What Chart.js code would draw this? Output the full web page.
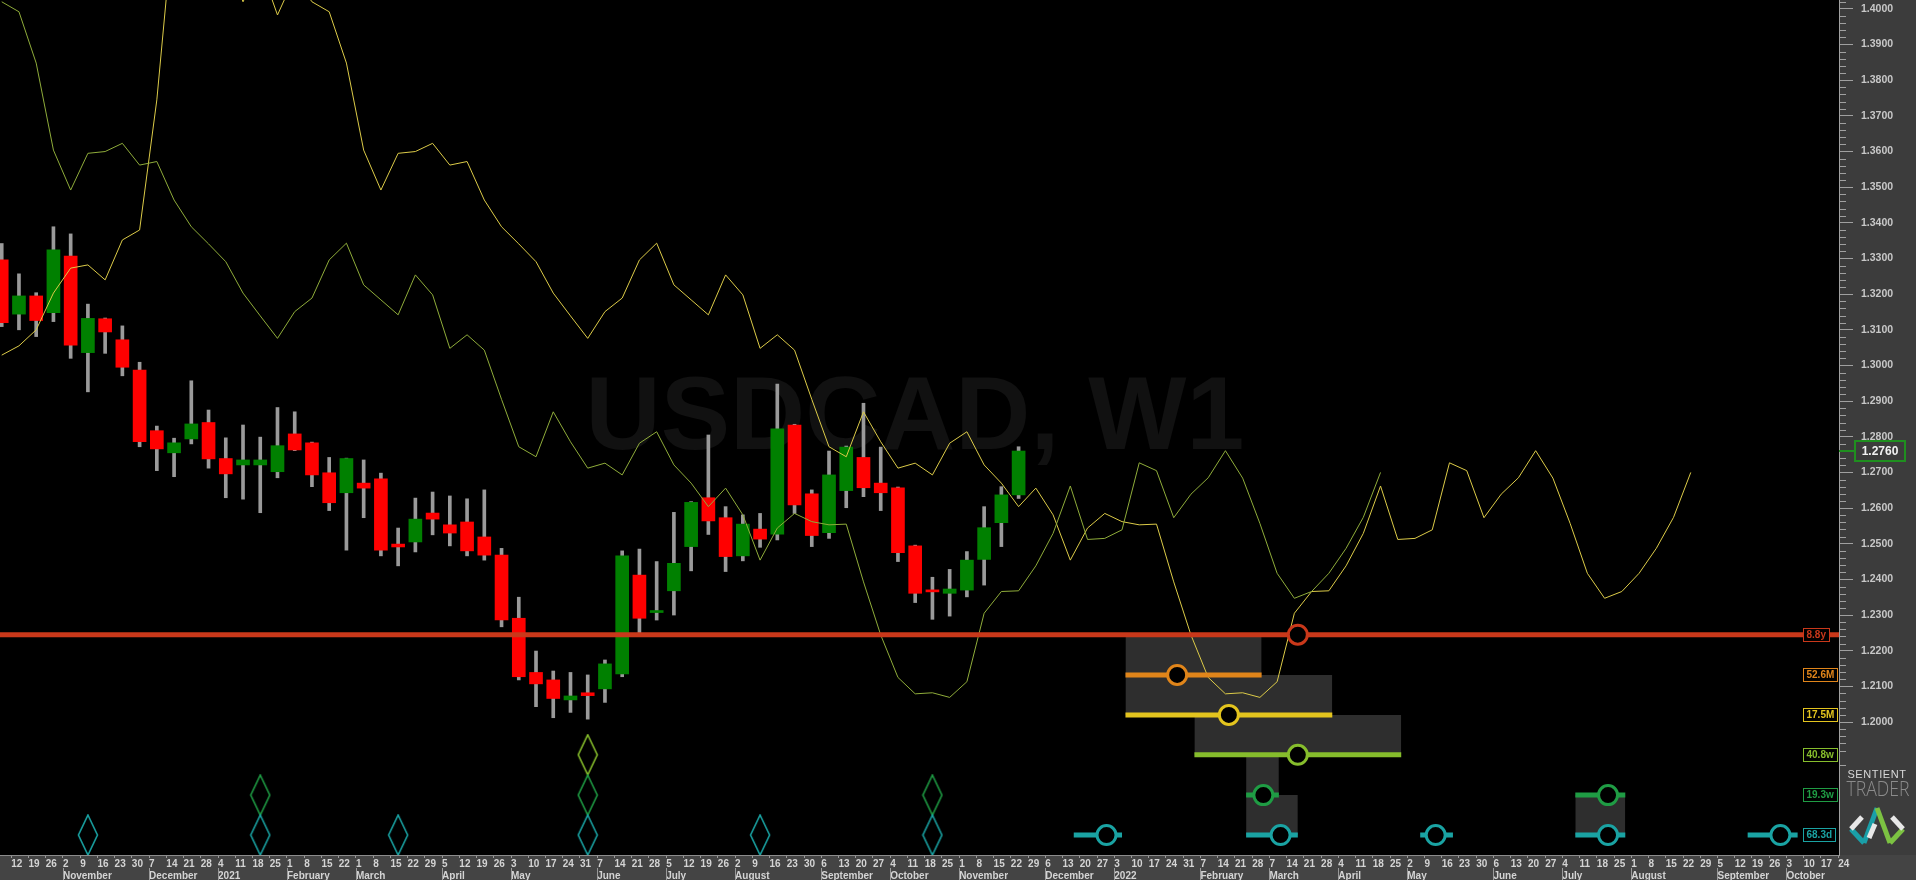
<!DOCTYPE html>
<html>
<head>
<meta charset="utf-8">
<title>USDCAD, W1</title>
<script src="https://cdn.jsdelivr.net/npm/chart.js@4.4.1/dist/chart.umd.min.js"></script>
<style>
  html, body { margin: 0; padding: 0; background: #3c3c3c; overflow: hidden; }
  #chart { display: block; }
</style>
</head>
<body>
<canvas id="chart" width="1916" height="880"></canvas>
<script>
// week index 0 = 5 Oct 2020, one step per week
var weekDays = [5,12,19,26, 2,9,16,23,30, 7,14,21,28, 4,11,18,25, 1,8,15,22, 1,8,15,22,29, 5,12,19,26,
  3,10,17,24,31, 7,14,21,28, 5,12,19,26, 2,9,16,23,30, 6,13,20,27, 4,11,18,25, 1,8,15,22,29,
  6,13,20,27, 3,10,17,24,31, 7,14,21,28, 7,14,21,28, 4,11,18,25, 2,9,16,23,30, 6,13,20,27,
  4,11,18,25, 1,8,15,22,29, 5,12,19,26, 3,10,17,24];
var monthStartWeeks = [4, 9, 13, 17, 21, 26, 30, 35, 39, 43, 48, 52, 56, 61, 65, 70, 74, 78, 82, 87, 91, 95, 100, 104];
var monthNames = ['November','December','2021','February','March','April','May','June','July','August','September','October',
  'November','December','2022','February','March','April','May','June','July','August','September','October'];

// weekly candles
var opens = [1.3296,1.3144,1.3195,1.3148,1.3307,1.3036,1.3131,1.3072,1.2987,1.2817,
  1.2755,1.2794,1.2840,1.2739,1.2721,1.2721,1.2702,1.2808,1.2783,1.2699,
  1.2643,1.2670,1.2682,1.2499,1.2505,1.2586,1.2553,1.2561,1.2519,1.2468,
  1.2291,1.2139,1.2118,1.2062,1.2082,1.2093,1.2135,1.2412,1.2307,1.2368,
  1.2492,1.2629,1.2573,1.2466,1.2541,1.2527,1.2833,1.2640,1.2531,1.2649,
  1.2742,1.2670,1.2657,1.2494,1.2370,1.2361,1.2370,1.2456,1.2559,1.2637];
var highs = [1.3342,1.3257,1.3204,1.3389,1.3369,1.3172,1.3133,1.3111,1.3009,1.2830,
  1.2796,1.2957,1.2875,1.2797,1.2833,1.2799,1.2882,1.2870,1.2785,1.2742,
  1.2740,1.2735,1.2698,1.2544,1.2628,1.2645,1.2634,1.2626,1.2651,1.2487,
  1.2350,1.2199,1.2143,1.2139,1.2132,1.2174,1.2480,1.2485,1.2450,1.2588,
  1.2618,1.2805,1.2604,1.2581,1.2585,1.2948,1.2835,1.2651,1.2760,1.2774,
  1.2894,1.2771,1.2659,1.2496,1.2406,1.2428,1.2478,1.2604,1.2660,1.2772];
var lows = [1.3109,1.3100,1.3081,1.3123,1.3020,1.2926,1.3034,1.2971,1.2772,1.2705,
  1.2688,1.2780,1.2712,1.2629,1.2625,1.2587,1.2685,1.2761,1.2660,1.2593,
  1.2482,1.2573,1.2466,1.2438,1.2477,1.2525,1.2494,1.2466,1.2454,1.2267,
  1.2118,1.2043,1.2012,1.2027,1.2008,1.2055,1.2127,1.2249,1.2286,1.2300,
  1.2424,1.2526,1.2422,1.2452,1.2490,1.2511,1.2585,1.2492,1.2515,1.2601,
  1.2632,1.2593,1.2450,1.2335,1.2288,1.2297,1.2351,1.2384,1.2492,1.2627];
var closes = [1.3120,1.3195,1.3126,1.3324,1.3057,1.3132,1.3094,1.2995,1.2786,1.2766,
  1.2783,1.2836,1.2738,1.2696,1.2735,1.2735,1.2775,1.2763,1.2693,1.2615,
  1.2739,1.2656,1.2482,1.2491,1.2569,1.2569,1.2530,1.2480,1.2468,1.2286,
  1.2127,1.2107,1.2066,1.2073,1.2074,1.2163,1.2466,1.2291,1.2312,1.2445,
  1.2616,1.2564,1.2464,1.2555,1.2513,1.2822,1.2609,1.2523,1.2693,1.2771,
  1.2657,1.2643,1.2475,1.2361,1.2365,1.2373,1.2454,1.2545,1.2637,1.2760];
var lastPrice = 1.2760;

// FLD lines, one value per week
var fldShort = [1.4020,1.3992,1.3848,1.3604,1.3492,1.3595,1.3600,1.3623,1.3562,1.3572,
  1.3464,1.3389,1.3341,1.3291,1.3203,1.3139,1.3076,1.3151,1.3189,1.3296,
  1.3343,1.3226,1.3184,1.3142,1.3254,1.3198,1.3048,1.3086,1.3043,1.2905,
  1.2772,1.2744,1.2870,1.2786,1.2712,1.2726,1.2693,1.2782,1.2814,1.2721,
  1.2670,1.2604,1.2656,1.2581,1.2454,1.2544,1.2585,1.2562,1.2553,1.2555,
  1.2393,1.2244,1.2125,1.2079,1.2082,1.2069,1.2113,1.2305,1.2366,1.2368,
  1.2438,1.2529,1.2662,1.2512,1.2515,1.2539,1.2727,1.2705,1.2573,1.2639,
  1.2685,1.2761,1.2684,1.2557,1.2417,1.2347,1.2366,1.2417,1.2487,1.2574,
  1.2700];
var fldLong = [1.3029,1.3055,1.3100,1.3203,1.3273,1.3282,1.3240,1.3352,1.3380,1.3745,
  1.4266,1.4350,1.4250,1.4150,1.4020,1.4120,1.3983,1.4090,1.4020,
  1.3992,1.3848,1.3604,1.3492,1.3595,1.3600,1.3623,1.3562,1.3572,
  1.3464,1.3389,1.3341,1.3291,1.3203,1.3139,1.3076,1.3151,1.3189,1.3296,
  1.3343,1.3226,1.3184,1.3142,1.3254,1.3198,1.3048,1.3086,1.3043,1.2905,
  1.2772,1.2744,1.2870,1.2786,1.2712,1.2726,1.2693,1.2782,1.2814,1.2721,
  1.2670,1.2604,1.2656,1.2581,1.2454,1.2544,1.2585,1.2562,1.2553,1.2555,
  1.2393,1.2244,1.2125,1.2079,1.2082,1.2069,1.2113,1.2305,1.2366,1.2368,
  1.2438,1.2529,1.2662,1.2512,1.2515,1.2539,1.2727,1.2705,1.2573,1.2639,
  1.2685,1.2761,1.2684,1.2557,1.2417,1.2347,1.2366,1.2417,1.2487,1.2574,
  1.2700];

// cycle rows
var cycleNames = ['8.8y','52.6M','17.5M','40.8w','19.3w','68.3d'];
var cycleLevels = [1.2245, 1.2132, 1.2020, 1.1908, 1.1795, 1.1683];
var phaseSpans = [
  [[-0.1, 106.6]],
  [[65.2, 73.1]],
  [[65.2, 77.2]],
  [[69.2, 81.2]],
  [[72.2, 74.1], [91.3, 94.2]],
  [[62.2, 65.0], [72.2, 75.2], [82.3, 84.2], [91.3, 94.2], [101.3, 104.2]]
];
var phaseCentres = [[75.2], [68.2], [71.2], [75.2], [73.2, 93.2], [64.1, 74.2, 83.2, 93.2, 103.2]];
var windowCycle = [1, 2, 3, 4, 5, 5];
var windowFrom = [65.2, 65.2, 69.2, 72.2, 72.2, 91.3];
var windowTo = [73.1, 77.2, 81.2, 74.1, 75.2, 94.2];
var troughWeeks = [5, 15, 23, 34, 44, 54];
var troughDepth = [1, 2, 1, 3, 1, 2];

var xMin = -0.1, xMax = 106.6, priceMin = 1.1627, priceMax = 1.4025;

var cycleColors = ['#c9381a', '#e0851a', '#e3c41e', '#86bd2c', '#1f9c44', '#1aa3a3'];

function diamondStyle(color) {
  var c = document.createElement('canvas');
  c.width = 22; c.height = 42;
  var g = c.getContext('2d');
  g.strokeStyle = color;
  g.lineWidth = 1.6;
  g.beginPath();
  g.moveTo(11, 1); g.lineTo(20.5, 21); g.lineTo(11, 41); g.lineTo(1.5, 21);
  g.closePath();
  g.stroke();
  return c;
}

var datasets = [];

// phase circles
phaseCentres.forEach(function(list, c) {
  datasets.push({
    type: 'scatter',
    data: list.map(function(k) { return {x: k, y: cycleLevels[c]}; }),
    pointRadius: 9.5, pointHoverRadius: 9.5,
    pointBorderWidth: 3,
    pointBorderColor: cycleColors[c],
    pointBackgroundColor: '#000',
    order: 0
  });
});

// trough diamonds
for (var d = 0; d < 3; d++) {
  var row = 5 - d;
  datasets.push({
    type: 'scatter',
    data: troughWeeks.filter(function(w, i) { return troughDepth[i] > d; })
      .map(function(w) { return {x: w, y: cycleLevels[row]}; }),
    pointStyle: diamondStyle(cycleColors[row]),
    pointRadius: 10,
    order: 0
  });
}

// phase lines
phaseSpans.forEach(function(spans, c) {
  var pts = [];
  spans.forEach(function(s) {
    pts.push({x: s[0], y: cycleLevels[c]}, {x: s[1], y: cycleLevels[c]}, {x: s[1] + 0.01, y: null});
  });
  datasets.push({
    type: 'line', data: pts,
    borderColor: cycleColors[c], borderWidth: 5,
    pointRadius: 0, spanGaps: false, order: 1
  });
});

// FLDs
datasets.push({
  type: 'line',
  data: fldShort.map(function(v, k) { return {x: k, y: v}; }),
  borderColor: '#8fac3a', borderWidth: 1, pointRadius: 0, tension: 0, order: 2
});
datasets.push({
  type: 'line',
  data: fldLong.map(function(v, k) { return {x: k, y: v}; }),
  borderColor: '#dccb48', borderWidth: 1, pointRadius: 0, tension: 0, order: 2
});

// candles
var candleColors = closes.map(function(c, i) { return c >= opens[i] ? '#008000' : '#ff0000'; });
datasets.push({
  type: 'bar',
  data: closes.map(function(c, i) { return {x: i, y: [opens[i], c]}; }),
  backgroundColor: candleColors,
  borderWidth: 0, barThickness: 13, minBarLength: 2, grouped: false, order: 3
});
datasets.push({
  type: 'bar',
  data: highs.map(function(h, i) { return {x: i, y: [lows[i], h]}; }),
  backgroundColor: '#9a9a9a',
  borderWidth: 0, barThickness: 3, grouped: false, order: 4
});

// projection windows
windowCycle.forEach(function(c, i) {
  datasets.push({
    type: 'line',
    data: [{x: windowFrom[i], y: cycleLevels[c - 1]}, {x: windowTo[i], y: cycleLevels[c - 1]}],
    borderWidth: 0, pointRadius: 0,
    backgroundColor: '#2e2e2e',
    fill: {value: cycleLevels[c]},
    order: 5
  });
});

var decor = {
  id: 'decor',
  beforeDraw: function(chart) {
    var ctx = chart.ctx, a = chart.chartArea;
    ctx.save();
    ctx.fillStyle = '#3c3c3c';
    ctx.fillRect(a.right, 0, chart.width - a.right, a.bottom);
    ctx.fillStyle = '#444444';
    ctx.fillRect(0, a.bottom, chart.width, chart.height - a.bottom);
    ctx.fillStyle = '#000';
    ctx.fillRect(a.left, a.top, a.right - a.left, a.bottom - a.top);
    ctx.restore();
  },
  beforeDatasetsDraw: function(chart) {
    var ctx = chart.ctx, a = chart.chartArea;
    ctx.save();
    ctx.font = 'bold 104px "Liberation Sans", Arial, sans-serif';
    ctx.fillStyle = '#111111';
    ctx.textAlign = 'center';
    ctx.textBaseline = 'alphabetic';
    ctx.fillText('USDCAD, W1', a.left + (a.right - a.left) * 0.4975, a.top + 449);
    ctx.restore();
  },
  afterDraw: function(chart) {
    var ctx = chart.ctx, a = chart.chartArea, x = chart.scales.x, y = chart.scales.y;
    ctx.save();
    ctx.lineWidth = 1;
    // minor price ticks
    ctx.strokeStyle = '#a0a0a0';
    for (var m = 1188; m <= 1402; m += 2) {
      if (m % 10 === 0) continue;
      var py = Math.round(y.getPixelForValue(m / 1000)) + 0.5;
      ctx.beginPath(); ctx.moveTo(a.right, py); ctx.lineTo(a.right + 7, py); ctx.stroke();
    }
    // month separators in the date band
    ctx.strokeStyle = '#9a9a9a';
    monthStartWeeks.forEach(function(k) {
      var px = Math.round(x.getPixelForValue(k - 0.45)) + 0.5;
      ctx.beginPath(); ctx.moveTo(px, a.bottom + 13); ctx.lineTo(px, chart.height); ctx.stroke();
    });
    // cycle labels
    ctx.font = 'bold 10px "Liberation Sans", Arial, sans-serif';
    ctx.textBaseline = 'middle';
    ctx.textAlign = 'left';
    cycleNames.forEach(function(name, c) {
      var py = Math.round(y.getPixelForValue(cycleLevels[c]));
      var w = Math.ceil(ctx.measureText(name).width) + 7;
      var left = a.right - 36;
      ctx.fillStyle = '#000';
      ctx.fillRect(left, py - 7, w, 14);
      ctx.strokeStyle = cycleColors[c];
      ctx.strokeRect(left + 0.5, py - 6.5, w - 1, 13);
      ctx.fillStyle = cycleColors[c];
      ctx.fillText(name, left + 3.5, py + 0.5);
    });
    // last price marker
    var lp = Math.round(y.getPixelForValue(lastPrice));
    ctx.strokeStyle = '#1f8f1f';
    ctx.lineWidth = 2;
    ctx.beginPath(); ctx.moveTo(a.right, lp); ctx.lineTo(a.right + 16, lp); ctx.stroke();
    ctx.strokeRect(a.right + 16, lp - 10, 50, 20);
    ctx.fillStyle = '#f2f2f2';
    ctx.font = 'bold 12px "Liberation Sans", Arial, sans-serif';
    ctx.textAlign = 'center';
    ctx.fillText(lastPrice.toFixed(4), a.right + 41, lp + 1);
    // logo
    var lx = a.right + 38;
    ctx.fillStyle = '#d8d8d8';
    ctx.font = '11px "Liberation Sans", Arial, sans-serif';
    ctx.letterSpacing = '0.6px';
    ctx.fillText('SENTIENT', lx, 775);
    ctx.letterSpacing = '0px';
    ctx.fillStyle = '#8c8c8c';
    ctx.font = '300 20px "Open Sans", "Liberation Sans", sans-serif';
    ctx.fillText('TRADER', lx + 1, 790, 63);
    ctx.lineWidth = 5;
    function seg(col, x1, y1, x2, y2) {
      ctx.strokeStyle = col;
      ctx.beginPath(); ctx.moveTo(x1, y1); ctx.lineTo(x2, y2); ctx.stroke();
    }
    seg('#1a9fa8', lx - 26, 829, lx - 13, 843);
    seg('#e8e8e8', lx - 26, 829, lx - 15, 817);
    seg('#1a9fa8', lx - 13, 843, lx, 808);
    seg('#7cc242', lx, 808, lx + 13, 843);
    seg('#7cc242', lx + 13, 843, lx + 26, 829);
    seg('#e8e8e8', lx + 15, 817, lx + 26, 829);
    seg('#e8e8e8', lx - 8, 838, lx - 2, 824);
    ctx.restore();
  }
};

new Chart(document.getElementById('chart'), {
  type: 'line',
  data: { datasets: datasets },
  options: {
    responsive: false,
    animation: false,
    events: [],
    layout: { padding: 0, autoPadding: false },
    plugins: { legend: { display: false }, tooltip: { enabled: false } },
    scales: {
      x: {
        type: 'linear', min: xMin, max: xMax, offset: false,
        grid: { drawOnChartArea: false, drawTicks: true, tickLength: 3, color: '#9a9a9a', offset: false },
        border: { color: '#8c8c8c' },
        afterBuildTicks: function(s) {
          s.ticks = weekDays.map(function(dd, k) { return {value: k - 0.45}; })
            .filter(function(t) { return t.value >= xMin && t.value <= xMax; });
        },
        afterFit: function(s) { s.height = 25; s.paddingLeft = 0; s.paddingRight = 0; },
        ticks: {
          autoSkip: false, maxRotation: 0, minRotation: 0, align: 'start', padding: 0,
          color: '#d4d4d4',
          font: { family: '"Liberation Sans", Arial, sans-serif', size: 10, weight: 'bold', lineHeight: 1.2 },
          callback: function(v) {
            var k = Math.round(v + 0.45);
            var mi = monthStartWeeks.indexOf(k);
            return mi >= 0 ? [String(weekDays[k]), monthNames[mi]] : String(weekDays[k]);
          }
        }
      },
      y: {
        type: 'linear', position: 'right', min: priceMin, max: priceMax,
        grid: { drawOnChartArea: false, tickLength: 14, color: '#a0a0a0' },
        border: { color: '#a0a0a0' },
        afterBuildTicks: function(s) {
          var t = [];
          for (var i = 120; i <= 140; i++) t.push({value: i / 100});
          s.ticks = t;
        },
        afterFit: function(s) { s.width = 77; s.paddingTop = 0; s.paddingBottom = 0; },
        ticks: {
          padding: 8, color: '#c8c8c8',
          font: { family: '"Liberation Sans", Arial, sans-serif', size: 10.5, weight: 'bold' },
          callback: function(v) { return Number(v).toFixed(4); }
        }
      }
    }
  },
  plugins: [decor]
});
</script>
</body>
</html>
